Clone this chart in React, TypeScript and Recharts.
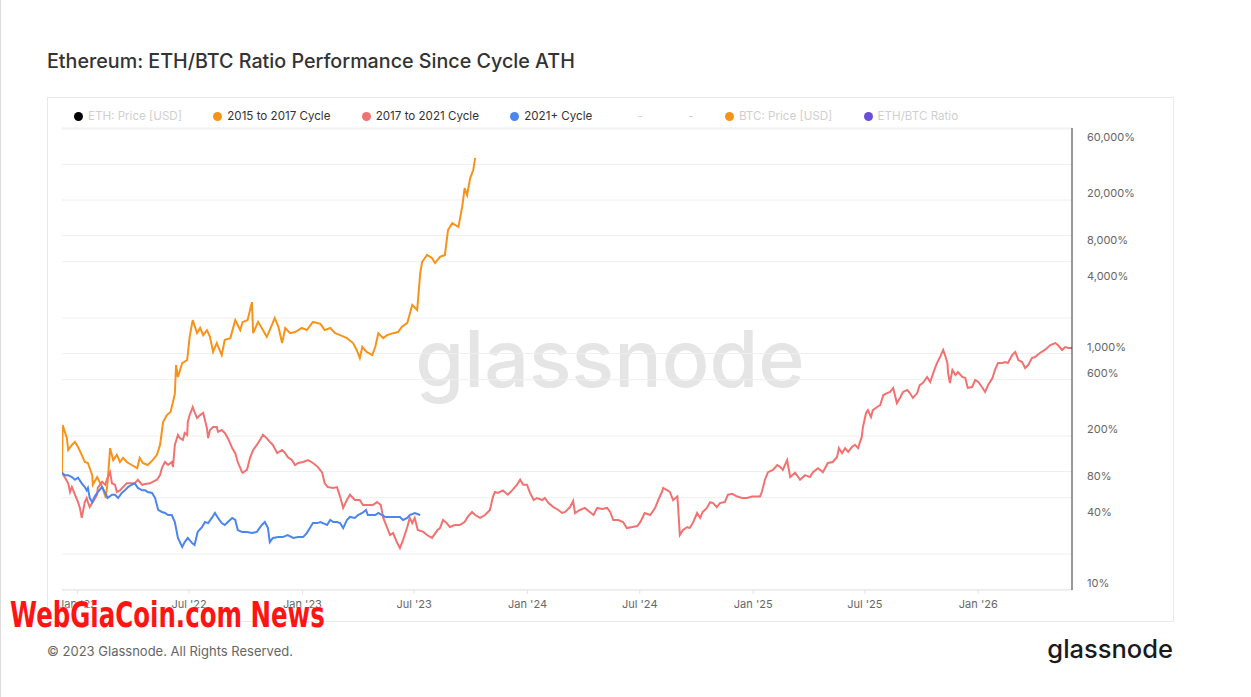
import React from 'react';
import { LineChart, Line, XAxis, YAxis, CartesianGrid } from 'recharts';

// [days since 1 Jan 2022, performance % since cycle ATH]
const cycle2015to2017: [number, number][] = [
  [-25, 86], [-24, 218], [-17, 169], [-15, 134], [-9, 148], [-4, 157], [1, 142], [7, 122], [12, 106], [17, 104],
  [24, 82], [25, 68], [32, 79], [37, 70], [41, 64], [46, 52.5], [49, 72], [53, 139], [58, 110], [64, 122],
  [69, 106], [74, 115], [80, 106], [88, 100], [97, 94], [101, 115], [106, 104], [114, 100], [122, 110], [129, 122],
  [134, 148], [139, 231], [145, 265], [151, 281], [155, 342], [158, 400], [160, 703], [163, 557], [170, 731], [178, 776],
  [182, 1220], [187, 1690], [194, 1310], [199, 1450], [204, 1260], [210, 1390], [215, 1220], [220, 908], [226, 1080], [234, 855],
  [239, 1150], [248, 1190], [256, 1690], [264, 1390], [268, 1630], [276, 1690], [283, 2400], [285, 1310], [293, 1630], [299, 1450],
  [307, 1220], [312, 1390], [320, 1760], [326, 1480], [332, 1080], [337, 1450], [345, 1310], [353, 1340], [364, 1450], [372, 1390],
  [382, 1630], [394, 1570], [401, 1390], [410, 1450], [418, 1310], [426, 1260], [437, 1190], [447, 1080], [453, 944], [458, 807],
  [462, 1000], [469, 908], [478, 855], [483, 1000], [488, 1310], [496, 1190], [502, 1260], [512, 1310], [520, 1340], [526, 1480],
  [535, 1600], [543, 2270], [551, 2060], [556, 4240], [559, 5250], [567, 6030], [575, 5680], [580, 5150], [588, 5800], [596, 6030],
  [601, 9800], [608, 11200], [618, 10400], [624, 15400], [628, 22200], [632, 19400], [637, 27000], [642, 31600], [645, 40000],
];

const cycle2017to2021: [number, number][] = [
  [-25, 86], [-20, 78], [-15, 70], [-12, 59], [-9, 65], [-4, 56], [1, 48.5], [4, 43.3], [7, 35.6], [12, 48.5],
  [15, 52.5], [17, 48.5], [20, 44], [25, 48.5], [32, 56], [33, 64], [40, 72], [45, 68], [49, 78], [53, 87],
  [56, 70], [61, 68], [64, 59], [69, 61], [74, 65], [80, 70], [88, 70], [93, 70], [98, 75], [105, 68],
  [110, 69], [118, 70], [122, 72], [129, 75], [134, 82], [137, 94], [142, 106], [147, 100], [153, 106], [155, 96],
  [158, 148], [163, 180], [166, 169], [171, 163], [174, 187], [178, 180], [179, 231], [182, 265], [187, 310], [190, 281],
  [194, 250], [199, 265], [204, 276], [210, 206], [212, 169], [215, 198], [220, 210], [226, 210], [228, 191], [234, 198],
  [239, 187], [244, 169], [251, 139], [256, 126], [260, 106], [267, 87], [268, 86], [275, 91], [280, 115], [285, 134],
  [291, 148], [296, 163], [301, 180], [307, 169], [312, 157], [317, 148], [324, 126], [332, 134], [337, 126], [341, 117],
  [348, 110], [353, 100], [358, 104], [366, 106], [374, 110], [382, 104], [390, 96], [397, 86], [401, 70], [406, 65],
  [415, 64], [421, 65], [426, 54], [431, 43.3], [437, 50.5], [442, 56], [450, 50.5], [458, 50.5], [463, 45.8], [471, 45.8],
  [479, 45.8], [486, 48.5], [492, 45.8], [496, 35.6], [502, 29.8], [507, 25.5], [512, 26.5], [518, 22.2], [523, 19.8], [528, 23.1],
  [535, 29.8], [539, 35.6], [543, 32.2], [547, 35.6], [552, 28.1], [561, 27.1], [567, 25.5], [575, 24.1], [584, 28.1], [588, 29.2],
  [593, 34.2], [599, 32.2], [604, 29.8], [612, 31], [620, 31], [628, 32.9], [633, 36.3], [640, 40], [645, 37.7], [653, 35.6],
  [661, 37.7], [669, 41.6], [674, 54], [677, 59], [682, 58], [690, 61], [698, 56], [705, 61], [713, 68], [718, 75],
  [723, 68], [729, 68], [734, 58], [740, 50.5], [745, 52.5], [754, 50.5], [758, 52.5], [764, 47.6], [772, 44], [780, 41.6],
  [786, 39.2], [791, 40], [799, 44], [804, 49.5], [807, 39.2], [815, 41.6], [823, 43.3], [831, 40], [837, 37.7], [843, 43.3],
  [851, 42.4], [859, 43.3], [864, 40], [869, 34.2], [877, 34.2], [885, 32.9], [891, 29.2], [900, 29.8], [908, 30.4], [913, 32.9],
  [920, 39.2], [929, 37.7], [937, 43.3], [942, 50.5], [948, 59], [950, 64], [957, 61], [961, 59], [966, 50.5], [973, 54],
  [974, 45.8], [977, 25.5], [982, 28.1], [989, 29.8], [993, 29.2], [998, 32.2], [1005, 39.2], [1010, 35.6], [1014, 40], [1021, 43.3],
  [1026, 48.5], [1031, 47.6], [1037, 44], [1042, 47.6], [1050, 48.5], [1055, 56], [1062, 57], [1070, 54], [1078, 52.5], [1086, 52.5],
  [1094, 54], [1102, 54], [1107, 54], [1110, 59], [1115, 75], [1120, 87], [1128, 91], [1135, 100], [1140, 96], [1144, 91],
  [1151, 110], [1156, 79], [1164, 86], [1172, 75], [1180, 82], [1188, 79], [1193, 87], [1201, 94], [1209, 87], [1217, 104],
  [1225, 106], [1232, 117], [1235, 139], [1240, 126], [1245, 139], [1250, 129], [1256, 142], [1261, 148], [1266, 139], [1272, 173],
  [1274, 210], [1279, 276], [1282, 292], [1287, 255], [1290, 292], [1297, 310], [1302, 322], [1307, 392], [1313, 407], [1318, 416],
  [1323, 450], [1329, 335], [1334, 370], [1339, 416], [1346, 432], [1350, 407], [1355, 370], [1362, 407], [1366, 476], [1371, 495],
  [1378, 557], [1383, 505], [1388, 603], [1394, 731], [1399, 822], [1404, 944], [1407, 855], [1411, 731], [1412, 603], [1415, 495],
  [1419, 638], [1424, 579], [1428, 614], [1435, 557], [1440, 546], [1444, 450], [1451, 458], [1456, 525], [1461, 505], [1467, 458],
  [1472, 416], [1477, 476], [1484, 546], [1488, 638], [1493, 731], [1500, 731], [1505, 746], [1509, 731], [1516, 855], [1521, 908],
  [1526, 776], [1532, 746], [1537, 664], [1542, 703], [1548, 807], [1553, 822], [1561, 890], [1569, 944], [1578, 1040], [1586, 1080],
  [1590, 1040], [1597, 944], [1602, 1000], [1607, 982], [1613, 982],
];

const cycle2021plus: [number, number][] = [
  [-25, 86], [-20, 82], [-15, 82], [-9, 79], [-4, 75], [1, 78], [7, 70], [12, 65], [15, 61], [17, 64],
  [20, 52.5], [24, 48.5], [28, 54], [33, 59], [40, 65], [45, 58], [49, 52.5], [56, 56], [61, 56], [66, 52.5],
  [72, 58], [77, 61], [82, 65], [88, 68], [93, 70], [98, 64], [105, 61], [110, 61], [114, 59], [121, 58],
  [126, 52.5], [131, 41.6], [137, 40], [142, 39.2], [147, 37.7], [153, 37.7], [158, 32.9], [163, 24.1], [170, 20.2], [174, 22.2],
  [179, 24.1], [186, 21.8], [190, 21], [195, 27.1], [202, 29.8], [207, 32.9], [212, 32.2], [218, 35.6], [223, 39.2], [228, 35.6],
  [234, 32.2], [239, 31], [244, 32.9], [251, 35.6], [256, 34.2], [260, 28.1], [267, 27.1], [275, 27.1], [283, 26.5], [291, 27.1],
  [299, 31], [304, 32.9], [309, 29.2], [312, 22.2], [317, 24.1], [326, 24.5], [333, 24.5], [341, 25.5], [350, 24.1], [358, 24.5],
  [366, 24.5], [372, 26.5], [378, 29.8], [382, 32.2], [389, 32.2], [394, 32.9], [398, 32.2], [405, 31], [410, 34.2], [415, 32.9],
  [421, 32.9], [426, 32.2], [431, 29.2], [437, 34.2], [442, 36.3], [450, 35.6], [455, 37.7], [462, 39.2], [468, 41.6], [471, 37.7],
  [478, 37.7], [483, 37.7], [488, 39.2], [494, 37.7], [499, 36.3], [507, 36.3], [515, 36.3], [523, 36.3], [528, 34.2], [535, 35.6],
  [539, 37.7], [547, 39.2], [556, 37.7],
];

const X_TICK_DAYS = [0, 181, 365, 546, 730, 912, 1096, 1277, 1461];
const X_TICK_LABELS = ["Jan '22", "Jul '22", "Jan '23", "Jul '23", "Jan '24", "Jul '24", "Jan '25", "Jul '25", "Jan '26"];
const Y_TICKS = [10, 40, 80, 200, 600, 1000, 4000, 8000, 20000, 60000];
const GRID_TICKS = [0.5, 1, 2, 3, 4, 5, 10, 20, 30, 40, 50, 100, 200, 300, 400, 500, 1000, 2000, 3000, 4000];

const LEGEND_ITEMS = [
  { name: 'ETH: Price [USD]', color: '#000000', active: false },
  { name: '2015 to 2017 Cycle', color: '#f7931a', active: true },
  { name: '2017 to 2021 Cycle', color: '#f27171', active: true },
  { name: '2021+ Cycle', color: '#4b86ee', active: true },
  { name: '-', color: 'transparent', active: false },
  { name: '-', color: 'transparent', active: false },
  { name: 'BTC: Price [USD]', color: '#f7931a', active: false },
  { name: 'ETH/BTC Ratio', color: '#6a4fd6', active: false },
];

const toRows = (arr: [number, number][]) => arr.map(([d, v]) => ({ d, v }));

export default function App() {
  const fmtX = (v: number) => {
    const i = X_TICK_DAYS.indexOf(v);
    return i >= 0 ? X_TICK_LABELS[i] : '';
  };
  const fmtY = (v: number) => v.toLocaleString('en-US') + '%';
  return (
    <div style={{ position: 'absolute', left: 0, top: 0, width: 1251, height: 697, background: '#fff', fontFamily: 'Inter, sans-serif', overflow: 'hidden' }}>
      <div style={{ position: 'absolute', left: 0, top: 0, width: 1, height: 697, background: '#dcdcdc' }} />
      <div style={{ position: 'absolute', left: 47, top: 49, fontSize: 19.7, lineHeight: '24px', fontWeight: 500, color: '#333', whiteSpace: 'nowrap' }}>
        Ethereum: ETH/BTC Ratio Performance Since Cycle ATH
      </div>
      <div style={{ position: 'absolute', left: 47, top: 97, width: 1127, height: 525, boxSizing: 'border-box', border: '1px solid #e9e9e9' }} />
      <div style={{ position: 'absolute', left: 310, top: 318, width: 600, textAlign: 'center', fontSize: 79, lineHeight: '80px', fontWeight: 500, color: '#e5e5e5', whiteSpace: 'nowrap' }}>
        glassnode
      </div>
      <div style={{ position: 'absolute', left: 74, top: 108, display: 'flex', alignItems: 'center', gap: 31.3, fontSize: 11.6, lineHeight: '16px', whiteSpace: 'nowrap' }}>
        {LEGEND_ITEMS.map((it, i) => (
          <div key={i} style={{ display: 'flex', alignItems: 'center' }}>
            <span style={{ width: 9, height: 9, borderRadius: '50%', background: it.color, marginRight: 5, display: 'inline-block' }} />
            <span style={{ color: it.active ? '#333' : '#cfcfcf' }}>{it.name}</span>
          </div>
        ))}
      </div>
      <div style={{ position: 'absolute', left: 47, top: 97 }}>
        <LineChart width={1126} height={524} margin={{ top: 31, right: 0, bottom: 0, left: 15 }}>
          <CartesianGrid yAxisId="grid" vertical={false} stroke="#efefef" />
          <XAxis
            dataKey="d"
            type="number"
            domain={[-25, 1613]}
            allowDataOverflow
            ticks={X_TICK_DAYS}
            tickFormatter={fmtX}
            height={31}
            tickSize={4}
            tickMargin={6}
            tick={{ fill: '#666', fontSize: 11 }}
            axisLine={{ stroke: '#e9e9e9' }}
            tickLine={{ stroke: '#e4e4e4' }}
          />
          <YAxis yAxisId="grid" hide type="number" scale="log" domain={[0.4957, 4078]} allowDataOverflow ticks={GRID_TICKS} />
          <YAxis
            yAxisId="pct"
            orientation="right"
            type="number"
            scale="log"
            domain={[8.724, 71780]}
            allowDataOverflow
            ticks={Y_TICKS}
            tickFormatter={fmtY}
            width={101}
            tickSize={0}
            tickMargin={15}
            tick={{ fill: '#666', fontSize: 11 }}
            axisLine={{ stroke: '#333' }}
            tickLine={false}
          />
          <Line yAxisId="pct" data={toRows(cycle2015to2017)} dataKey="v" stroke="#f7931a" strokeWidth={2} dot={false} activeDot={false} isAnimationActive={false} type="linear" />
          <Line yAxisId="pct" data={toRows(cycle2017to2021)} dataKey="v" stroke="#f27171" strokeWidth={2} dot={false} activeDot={false} isAnimationActive={false} type="linear" />
          <Line yAxisId="pct" data={toRows(cycle2021plus)} dataKey="v" stroke="#4b86ee" strokeWidth={2} dot={false} activeDot={false} isAnimationActive={false} type="linear" />
        </LineChart>
      </div>
      <div style={{ position: 'absolute', left: 10, top: 595, fontFamily: "'DejaVu Sans', sans-serif", fontWeight: 700, fontSize: 36, lineHeight: '40px', color: '#ff1414', whiteSpace: 'nowrap', transform: 'scaleX(0.68)', transformOrigin: 'left center', textShadow: '0 0 2px #fff, 0 0 2px #fff' }}>
        WebGiaCoin.com News
      </div>
      <div style={{ position: 'absolute', left: 47, top: 643, fontSize: 13, lineHeight: '16px', color: '#666', whiteSpace: 'nowrap' }}>
        © 2023 Glassnode. All Rights Reserved.
      </div>
      <div style={{ position: 'absolute', right: 78, top: 634, fontSize: 25.5, lineHeight: '30px', fontWeight: 500, color: '#1a1a1a', whiteSpace: 'nowrap' }}>
        glassnode
      </div>
    </div>
  );
}
